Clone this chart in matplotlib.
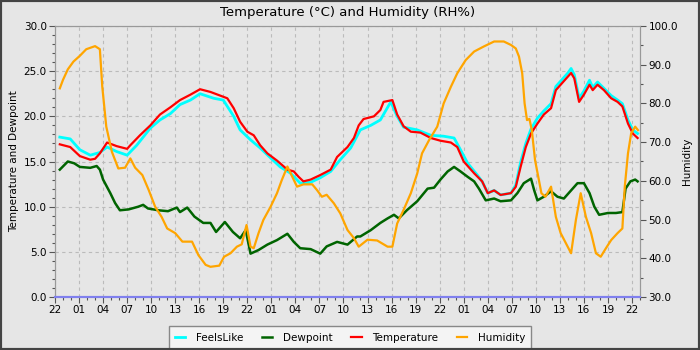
import matplotlib
matplotlib.use("Agg")
import matplotlib.pyplot as plt
from matplotlib.ticker import MultipleLocator, FixedLocator, FixedFormatter
from matplotlib.patches import Rectangle

start_hour = 22  # first x tick is 22:00
hours_total = 73

temp_h = [0.6, 1.9, 3.1, 4.4, 5.0, 5.6, 6.5, 7.7, 9.0, 9.4, 10.6, 11.9, 13.1, 14.4, 15.6,
          16.9, 18.1, 19.4, 20.6, 21.5, 22.3, 23.1, 24.0, 24.8, 25.6, 26.5, 27.7, 29.0,
          29.8, 30.4, 31.0, 31.9, 33.1, 34.4, 35.2, 36.5, 37.3, 37.9, 38.5, 39.8, 40.6,
          41.0, 42.1, 42.7, 43.5, 44.4, 45.6, 46.9, 48.1, 49.4, 50.2, 51.0, 52.3, 53.3,
          54.0, 54.8, 55.6, 56.9, 57.5, 58.1, 58.75, 59.4, 60.2, 61.0, 61.9, 62.5, 63.1,
          64.0, 64.4, 64.8, 65.4, 66.0, 66.7, 67.1, 67.7, 68.5, 69.4, 70.2, 70.8, 71.5,
          72.1, 72.7]
temperature = [16.9, 16.6, 15.6, 15.2, 15.3, 15.9, 17.1, 16.7, 16.4, 16.8, 17.9, 19.0, 20.2,
               21.0, 21.8, 22.4, 23.0, 22.7, 22.3, 22.0, 20.9, 19.4, 18.3, 17.9, 16.8, 15.9,
               15.1, 14.1, 13.9, 13.3, 12.8, 13.0, 13.5, 14.1, 15.5, 16.6, 17.6, 19.0, 19.7,
               20.0, 20.7, 21.6, 21.8, 20.2, 18.9, 18.3, 18.2, 17.6, 17.3, 17.1, 16.6, 15.0,
               13.7, 12.8, 11.5, 11.8, 11.3, 11.5, 12.2, 14.4, 16.6, 18.1, 19.2, 20.2, 20.9,
               22.9, 23.5, 24.4, 24.8, 24.2, 21.6, 22.4, 23.5, 22.9, 23.5, 22.9, 22.0, 21.6,
               21.1, 19.2, 18.1, 17.6]

feels_h = [0.6, 1.9, 3.1, 4.4, 5.6, 6.5, 7.7, 9.0, 10.2, 11.9, 13.1, 14.4, 15.6, 16.9,
           18.1, 19.8, 21.0, 22.3, 23.1, 24.4, 25.6, 26.9, 28.1, 29.4, 30.6, 31.9, 33.1,
           34.4, 35.6, 36.9, 38.1, 39.4, 40.6, 41.9, 42.7, 43.5, 45.2, 46.9, 48.5, 49.8,
           50.6, 51.5, 52.7, 53.3, 54.0, 54.8, 55.6, 56.9, 57.5, 58.1, 58.75, 59.4, 60.2,
           61.0, 61.9, 62.5, 63.1, 64.0, 64.4, 64.8, 65.4, 66.0, 66.7, 67.1, 67.7, 68.5,
           69.4, 70.2, 70.8, 71.5, 72.1, 72.7]
feelslike = [17.7, 17.5, 16.3, 15.7, 16.0, 16.6, 16.1, 15.7, 16.8, 18.7, 19.6, 20.3, 21.3,
             21.8, 22.5, 22.0, 21.8, 20.0, 18.5, 17.4, 16.5, 15.4, 14.4, 13.7, 12.6, 12.7,
             13.2, 13.9, 15.2, 16.5, 18.5, 19.0, 19.6, 21.6, 20.0, 18.8, 18.5, 17.9, 17.8,
             17.6, 16.3, 14.8, 13.5, 12.8, 11.5, 11.8, 11.3, 11.5, 12.4, 14.9, 17.0, 18.6,
             19.8, 20.6, 21.4, 23.3, 23.9, 24.8, 25.3, 24.6, 22.0, 22.8, 24.0, 23.2, 23.8,
             23.1, 22.3, 21.8, 21.4, 19.6, 18.5, 18.1]

dew_h = [0.6, 1.6, 2.4, 3.1, 4.4, 5.2, 5.6, 6.0, 6.9, 7.5, 8.1, 9.2, 10.4, 11.0, 11.6,
         12.9, 14.1, 15.2, 15.6, 16.5, 17.4, 18.5, 19.4, 20.1, 21.2, 22.2, 23.1, 23.8,
         24.4, 25.4, 26.5, 27.7, 29.0, 29.8, 30.6, 31.9, 33.1, 33.9, 35.2, 36.5, 37.7,
         38.1, 39.4, 40.6, 41.5, 42.3, 42.9, 43.9, 45.2, 46.5, 47.3, 48.1, 49.0, 49.8,
         50.6, 51.5, 52.3, 52.9, 53.75, 54.8, 55.6, 56.9, 57.7, 58.5, 59.4, 59.8, 60.2,
         61.0, 61.9, 62.7, 63.5, 64.4, 65.2, 66.0, 66.7, 67.3, 67.9, 69.0, 70.0, 70.8,
         71.2, 71.8, 72.4, 72.7]
dewpoint = [14.1, 15.0, 14.8, 14.4, 14.3, 14.5, 14.1, 13.0, 11.5, 10.4, 9.6, 9.7, 10.0,
            10.2, 9.8, 9.6, 9.5, 9.9, 9.4, 9.9, 8.9, 8.2, 8.2, 7.2, 8.3, 7.2, 6.5, 7.4,
            4.8, 5.2, 5.8, 6.3, 7.0, 6.1, 5.4, 5.3, 4.8, 5.6, 6.1, 5.8, 6.7, 6.7, 7.4,
            8.2, 8.7, 9.1, 8.7, 9.6, 10.6, 12.0, 12.1, 13.0, 13.9, 14.4, 13.9, 13.3, 12.8,
            12.0, 10.7, 10.9, 10.6, 10.7, 11.5, 12.6, 13.1, 11.8, 10.7, 11.1, 11.7, 11.1,
            10.9, 11.8, 12.6, 12.6, 11.5, 10.0, 9.1, 9.3, 9.3, 9.4, 12.0, 12.8, 13.0, 12.8]

hum_h = [0.6, 1.0, 1.6, 2.3, 3.1, 3.9, 5.0, 5.6, 5.9, 6.4, 7.1, 7.9, 8.75, 9.4, 10.0,
         10.9, 11.7, 12.5, 13.3, 14.0, 15.0, 15.9, 17.1, 17.9, 18.8, 19.4, 20.5, 21.1,
         21.9, 22.7, 23.3, 23.9, 24.4, 24.8, 25.4, 26.0, 26.9, 27.7, 28.3, 29.0, 29.6,
         30.2, 31.0, 32.1, 32.7, 33.3, 33.9, 34.8, 35.6, 36.5, 37.3, 37.9, 39.0, 40.2,
         41.5, 42.1, 42.7, 43.5, 44.4, 45.2, 45.8, 46.7, 47.7, 48.5, 49.4, 50.2, 51.25,
         52.3, 53.5, 54.8, 56.0, 56.9, 57.5, 57.9, 58.3, 58.6, 58.9, 59.2, 59.5, 59.9,
         60.3, 60.7, 61.2, 61.9, 62.5, 63.1, 63.75, 64.4, 65.0, 65.6, 66.25, 66.9, 67.5,
         68.1, 68.75, 69.4, 70.2, 70.8, 71.1, 71.5, 71.9, 72.4, 72.75]
humidity = [83.9, 86.1, 88.8, 90.8, 92.3, 94.0, 94.8, 94.0, 84.3, 74.0, 67.5, 63.2, 63.4,
            65.8, 63.4, 61.5, 57.6, 53.3, 50.7, 47.7, 46.5, 44.3, 44.3, 40.8, 38.3, 37.8,
            38.1, 40.4, 41.3, 43.0, 43.6, 48.6, 43.0, 42.6, 46.5, 49.9, 53.3, 56.8, 60.2,
            63.7, 61.1, 58.5, 59.1, 59.1, 57.6, 55.9, 56.4, 54.2, 51.6, 47.3, 45.2, 43.0,
            44.8, 44.6, 43.0, 43.0, 49.0, 52.5, 56.8, 61.9, 67.1, 70.6, 74.0, 80.0, 84.3,
            87.8, 91.2, 93.4, 94.7, 96.0, 96.0, 95.1, 94.2, 92.1, 87.8, 80.0, 75.7, 76.0,
            73.1, 65.4, 61.1, 56.8, 55.9, 58.5, 50.7, 46.5, 43.9, 41.3, 49.9, 56.8, 50.7,
            46.5, 41.3, 40.4, 42.6, 44.7, 46.5, 47.7, 58.5, 67.1, 72.3, 74.0, 73.1]

bg = "#e6e6e6"
fig = plt.figure(figsize=(7, 3.5), dpi=100, facecolor=bg)
ax = fig.add_axes([55 / 700, 53 / 350, 585 / 700, 271 / 350], facecolor=bg)
ax2 = ax.twinx()

l1, = ax.plot(feels_h, feelslike, color="#00ffff", lw=2.0, label="FeelsLike")
l2, = ax.plot(dew_h, dewpoint, color="#006400", lw=1.8, label="Dewpoint")
l3, = ax.plot(temp_h, temperature, color="#ff0000", lw=1.6, label="Temperature")
l4, = ax2.plot(hum_h, humidity, color="#ffa500", lw=1.6, label="Humidity")

ax.set_xlim(0, hours_total)
ax.set_ylim(0, 30)
ax2.set_ylim(30, 100)

major_x = list(range(0, hours_total, 3))
ax.xaxis.set_major_locator(FixedLocator(major_x))
ax.xaxis.set_major_formatter(FixedFormatter([f"{(start_hour + h) % 24:02d}" for h in major_x]))
ax.xaxis.set_minor_locator(MultipleLocator(1))
ax.yaxis.set_major_locator(MultipleLocator(5))
ax.yaxis.set_minor_locator(MultipleLocator(1))
ax.yaxis.set_major_formatter(lambda v, p: f"{v:.1f}")
ax2.yaxis.set_major_locator(MultipleLocator(10))
ax2.yaxis.set_minor_locator(MultipleLocator(5))
ax2.yaxis.set_major_formatter(lambda v, p: f"{v:.1f}")

for a in (ax, ax2):
    a.tick_params(which="major", length=4, width=0.8, color="#555555", labelsize=7.5, pad=2)
    a.tick_params(which="minor", length=2.5, width=0.8, color="#555555")
    for s in ("left", "right", "top"):
        a.spines[s].set_color("#999999")
    a.spines["bottom"].set_color("#8080ee")
    a.spines["bottom"].set_linewidth(1.5)

ax.grid(True, which="major", color="#bbbbbb", linestyle=(0, (3, 3)), lw=0.8)
ax.set_axisbelow(True)

ax.set_ylabel("Temperature and Dewpoint", fontsize=7.5, labelpad=3)
ax2.set_ylabel("Humidity", fontsize=7.5, labelpad=3)
fig.text(0.497, 0.965, "Temperature (°C) and Humidity (RH%)", ha="center", va="center", fontsize=9.5)

leg = fig.legend(handles=[l1, l2, l3, l4], loc="lower center", bbox_to_anchor=(0.5, 0.003),
                 ncol=4, fontsize=7.5, handlelength=1.0, columnspacing=1.8, handletextpad=1.0,
                 fancybox=False, framealpha=1, borderaxespad=0, borderpad=0.6)
leg.get_frame().set_facecolor("#f4f4f4")
leg.get_frame().set_edgecolor("#888888")

fig.patches.append(Rectangle((0, 0), 1, 1, transform=fig.transFigure, fill=False,
                             edgecolor="#444444", lw=3, zorder=10))

fig.savefig("out.png", dpi=100, facecolor=bg)
